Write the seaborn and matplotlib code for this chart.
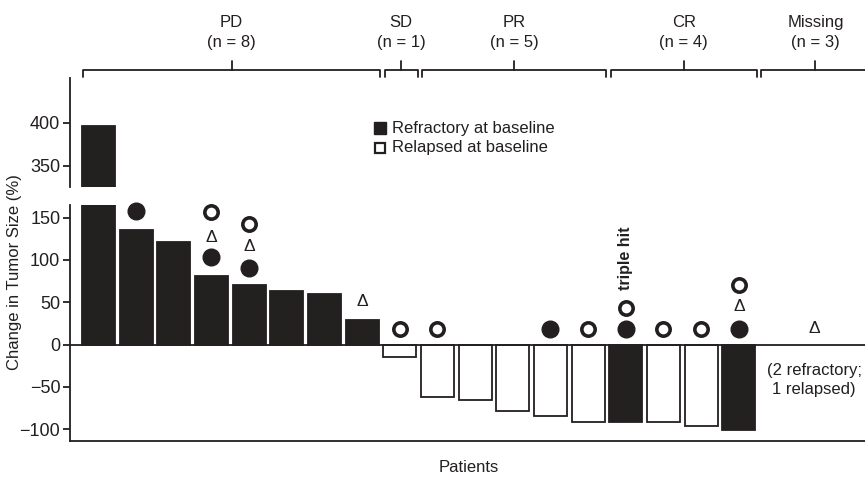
import matplotlib
matplotlib.use("Agg")
import matplotlib.pyplot as plt
import seaborn as sns
import pandas as pd
import numpy as np

sns.set_theme(style="white")
plt.rcParams['font.family'] = ['Liberation Sans', 'DejaVu Sans']
plt.rcParams['axes.unicode_minus'] = True

# ---------------- data ----------------
change = [396, 136, 121, 81, 71, 63, 60, 29, -15, -62, -65, -78, -84, -92, -91, -92, -96, -101]
status = ["Refractory"] * 8 + ["Relapsed"] * 6 + ["Refractory"] + ["Relapsed"] * 2 + ["Refractory"]
groups = ["PD", "SD", "PR", "CR", "Missing"]
group_n = [8, 1, 5, 4, 3]

# annotation symbols (patient index, height in %)
filled_x = [1, 3, 4, 12, 14, 17]
filled_y = [158, 103, 91, 18, 18, 18]
open_x = [3, 4, 8, 9, 13, 14, 15, 16, 17]
open_y = [157, 142, 18, 18, 18, 43, 18, 18, 71]
delta_x = [3, 4, 7, 17, 19]
delta_y = [126, 116, 51, 45, 19]

yticks_top = [350, 400]
yticks_bottom = [-100, -50, 0, 50, 100, 150]

df = pd.DataFrame({"patient": np.arange(len(change)), "change": change, "status": status})
palette = {"Refractory": "#231f20", "Relapsed": "#ffffff"}
ink = "#231f20"
FS = 12

W, H = 865, 483
fig = plt.figure(figsize=(W / 100, H / 100), dpi=100)
left = 70 / W
ax_top = fig.add_axes([left, 1 - 187 / H, 1 - left, (187 - 78) / H])
ax_bot = fig.add_axes([left, 1 - 441 / H, 1 - left, (441 - 205) / H])

xlim = (-0.756, 20.35)
for ax in (ax_top, ax_bot):
    sns.barplot(data=df, x="patient", y="change", hue="status", palette=palette,
                dodge=False, native_scale=True, width=0.87, orient="x",
                edgecolor=ink, linewidth=1.3, legend=False, ax=ax)
    ax.set_xlim(*xlim)
    ax.set_xlabel("")
    ax.set_ylabel("")
    ax.set_xticks([])
    for s in ("top", "right"):
        ax.spines[s].set_visible(False)
    ax.spines["left"].set_color(ink)
    ax.spines["left"].set_linewidth(1.3)
    ax.tick_params(axis="y", direction="out", length=5, width=1.3, color=ink,
                   labelsize=13, labelcolor=ink, pad=2, left=True)
    ax.patch.set_alpha(0)

ax_top.set_ylim(325.6, 452)
ax_top.set_yticks(yticks_top)
ax_top.spines["bottom"].set_visible(False)

ax_bot.set_ylim(-114, 165)
ax_bot.set_yticks(yticks_bottom)
ax_bot.set_yticklabels([str(v).replace("-", "\u2212") for v in yticks_bottom])
ax_bot.spines["bottom"].set_color(ink)
ax_bot.spines["bottom"].set_linewidth(1.3)
ax_bot.axhline(0, color=ink, lw=1.3, zorder=5)

# symbols
ax_bot.plot(filled_x, filled_y, "o", ms=12, color=ink, mec=ink, clip_on=False, zorder=6)
ax_bot.plot(open_x, open_y, "o", ms=9.6, mfc="white", mec=ink, mew=2.6, clip_on=False, zorder=6)
for x, y in zip(delta_x, delta_y):
    ax_bot.text(x, y, "\u0394", ha="center", va="center", fontsize=12.5, color=ink)

ax_bot.text(14, 64, "triple hit", rotation=90, ha="center", va="bottom",
            fontsize=11.5, fontweight="bold", color=ink)
ax_bot.text(19, -42, "(2 refractory;\n1 relapsed)", ha="center", va="center",
            fontsize=FS, color=ink, linespacing=1.35)

# group brackets
tr = ax_top.get_xaxis_transform()
start = 0
for g, n in zip(groups, group_n):
    first, last = start, start + n - 1
    x0, x1 = first - 0.4, last + 0.47
    xm = (x0 + x1) / 2
    ax_top.plot([x0, x0, x1, x1], [1.009, 1.073, 1.073, 1.009], color=ink, lw=1.3,
                transform=tr, clip_on=False)
    ax_top.plot([xm, xm], [1.073, 1.156], color=ink, lw=1.3, transform=tr, clip_on=False)
    ax_top.text(xm, 1.325, f"(n = {n})", transform=tr, ha="center", va="center",
                fontsize=FS, color=ink)
    ax_top.text(xm, 1.505, g, transform=tr, ha="center", va="center", fontsize=FS, color=ink)
    start += n

# legend
ax_top.plot([0.390], [0.541], "s", ms=8, color=ink, transform=ax_top.transAxes, clip_on=False)
ax_top.plot([0.390], [0.358], "s", ms=7, mfc="white", mec=ink, mew=1.6,
            transform=ax_top.transAxes, clip_on=False)
ax_top.text(0.405, 0.541, "Refractory at baseline", transform=ax_top.transAxes,
            ha="left", va="center", fontsize=FS, color=ink)
ax_top.text(0.405, 0.358, "Relapsed at baseline", transform=ax_top.transAxes,
            ha="left", va="center", fontsize=FS, color=ink)

fig.text(15 / W, 1 - 272 / H, "Change in Tumor Size (%)", rotation=90, ha="center",
         va="center", fontsize=FS, color=ink)
fig.text(469 / W, 1 - 467 / H, "Patients", ha="center", va="center", fontsize=FS, color=ink)

fig.savefig("out.png", dpi=100)
